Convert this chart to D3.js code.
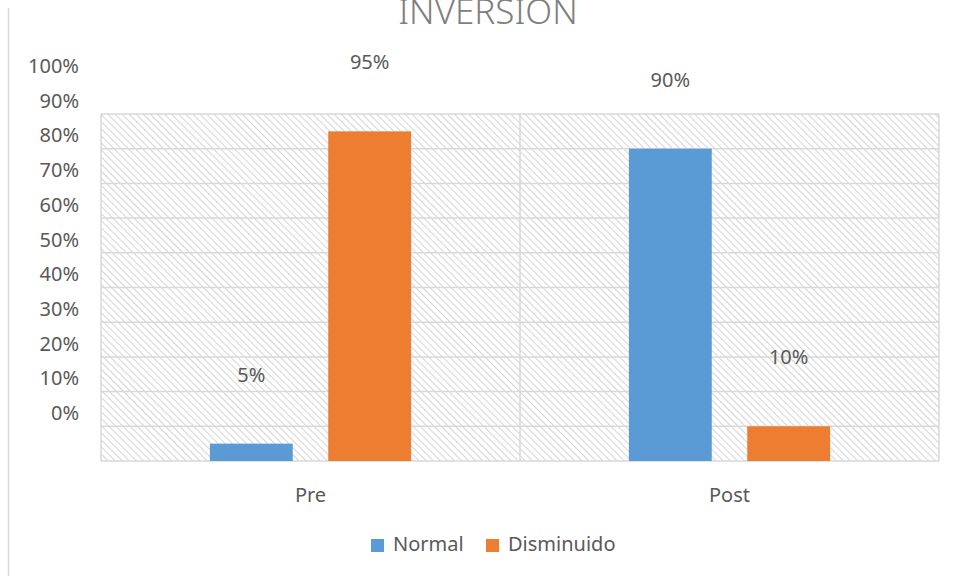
<!DOCTYPE html>
<html><head><meta charset="utf-8">
<script src="https://cdn.jsdelivr.net/npm/d3@7"></script>
<style>body{margin:0;background:#fff}svg{display:block}text{font-family:"Noto Sans",sans-serif;fill:#595959}</style>
</head><body><svg id="c" width="956" height="576"></svg>
<script>
const title = "INVERSION";
const categories = ["Pre", "Post"];
const seriesNames = ["Normal", "Disminuido"];
const normalValues = [0.05, 0.90];
const disminuidoValues = [0.95, 0.10];
const tickValues = [0, 0.1, 0.2, 0.3, 0.4, 0.5, 0.6, 0.7, 0.8, 0.9, 1.0];
const colors = ["#5b9bd5", "#ed7d31"];

const svg = d3.select("#c");
const W = 956, H = 576;
const plot = {l: 101, r: 939, t: 114, b: 461};

const defs = svg.append("defs");
const pat = defs.append("pattern").attr("id","hatch").attr("patternUnits","userSpaceOnUse")
  .attr("width",5).attr("height",5).attr("patternTransform","rotate(-45)");
pat.append("line").attr("x1",0).attr("y1",0).attr("x2",0).attr("y2",5)
  .attr("stroke","#d6d6d6").attr("stroke-width",2.2);

// chart border (left only visible)
svg.append("line").attr("x1",8.5).attr("x2",8.5).attr("y1",8).attr("y2",H).attr("stroke","#d9d9d9").attr("stroke-width",1.5);

svg.append("text").attr("x",488).attr("y",24).attr("text-anchor","middle")
  .style("font-size","35px").style("fill","#7f7f7f").style("font-weight",300).text(title);

const x0 = d3.scaleBand().domain(categories).range([plot.l, plot.r]).padding(0);
const x1 = d3.scaleBand().domain(seriesNames).range([0, x0.bandwidth()]).paddingInner(0.3).paddingOuter(0.92);
const y = d3.scaleLinear().domain([0,1]).range([plot.b, plot.t]);

svg.append("rect").attr("x",plot.l).attr("y",plot.t).attr("width",plot.r-plot.l).attr("height",plot.b-plot.t)
  .attr("fill","url(#hatch)");

// gridlines
svg.append("g").selectAll("line").data(tickValues).join("line")
  .attr("x1",plot.l).attr("x2",plot.r).attr("y1",d=>y(d)).attr("y2",d=>y(d))
  .attr("stroke","#d9d9d9").attr("stroke-width",1.5);
// vertical borders / category separators
const vx = [plot.l, x0("Post"), plot.r];
svg.append("g").selectAll("line").data(vx).join("line")
  .attr("x1",d=>d).attr("x2",d=>d).attr("y1",plot.t).attr("y2",plot.b)
  .attr("stroke","#d9d9d9").attr("stroke-width",1.5);

// tick labels (offset as in reference)
svg.append("g").selectAll("text").data(tickValues).join("text")
  .attr("x",79).attr("y",d=>y(d)-41).attr("text-anchor","end")
  .style("font-size","20px").text(d=>d3.format(".0%")(d));

const rows = categories.map((c,i)=>({cat:c, vals:[normalValues[i], disminuidoValues[i]]}));
const g = svg.append("g").selectAll("g").data(rows).join("g").attr("transform",d=>`translate(${x0(d.cat)},0)`);
g.selectAll("rect").data(d=>d.vals.map((v,j)=>({s:seriesNames[j],v,j}))).join("rect")
  .attr("x",d=>x1(d.s)).attr("width",x1.bandwidth()).attr("y",d=>y(d.v)).attr("height",d=>y(0)-y(d.v))
  .attr("fill",d=>colors[d.j]);
g.selectAll("text").data(d=>d.vals.map((v,j)=>({s:seriesNames[j],v,j}))).join("text")
  .attr("x",d=>x1(d.s)+x1.bandwidth()/2).attr("y",d=>y(d.v)-62).attr("text-anchor","middle")
  .style("font-size","20px").text(d=>d3.format(".0%")(d.v));

svg.append("g").selectAll("text").data(categories).join("text")
  .attr("x",d=>x0(d)+x0.bandwidth()/2).attr("y",502).attr("text-anchor","middle")
  .style("font-size","20px").text(d=>d);

// legend
const leg = svg.append("g");
const legX = [371, 486];
seriesNames.forEach((s,i)=>{
  leg.append("rect").attr("x",legX[i]).attr("y",539).attr("width",13).attr("height",13).attr("fill",colors[i]);
  leg.append("text").attr("x",legX[i]+22).attr("y",551).style("font-size","20px").text(s);
});
</script></body></html>
